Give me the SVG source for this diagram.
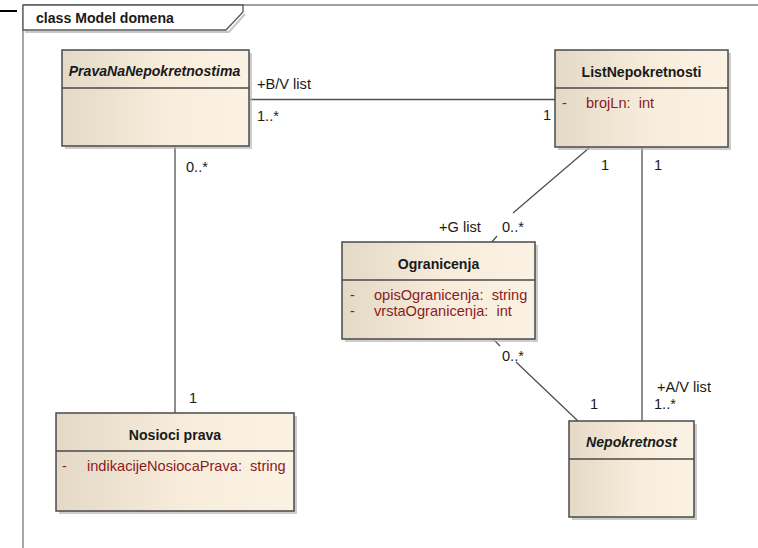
<svg xmlns="http://www.w3.org/2000/svg" width="758" height="548" viewBox="0 0 758 548">
<defs>
<linearGradient id="g" x1="0" y1="0" x2="1" y2="0">
<stop offset="0" stop-color="#e3d9c6"/>
<stop offset="0.55" stop-color="#f8eddc"/>
<stop offset="1" stop-color="#fbf2e4"/>
</linearGradient>
<style>
text{font-family:"Liberation Sans",Arial,sans-serif;font-size:14.6px;fill:#1a1a1a;white-space:pre}
.t{font-weight:bold;font-size:14.1px;text-anchor:middle}
.i{font-style:italic}
.a{fill:#8b1a24}
.box{fill:url(#g);stroke:#4a4a4a;stroke-width:1.5}
.sh{fill:#b8b8b8;opacity:0.7}
.div{stroke:#4a4a4a;stroke-width:1.5}
.c{stroke:#505050;stroke-width:1.3;fill:none}
</style>
</defs>
<rect width="758" height="548" fill="#fff"/>
<g id="frame">
<line x1="0" y1="11" x2="17" y2="11" stroke="#000" stroke-width="2"/>
<line x1="23" y1="5" x2="758" y2="5" stroke="#a0a0a0" stroke-width="2"/>
<line x1="23" y1="5" x2="23" y2="548" stroke="#8a8a8a" stroke-width="1.5"/>
<path d="M25,32 L229,32 L245,14" fill="none" stroke="#c8c8c8" stroke-width="2"/>
<path d="M23,5 L243,5 L243,12 L226,30 L23,30 Z" fill="#fff" stroke="#555" stroke-width="1.3"/>
<text x="36" y="23" style="font-weight:bold;font-size:14.1px">class Model domena</text>
</g>
<g id="connectors">
<line class="c" x1="249" y1="99.5" x2="555" y2="99.5"/>
<line class="c" x1="175" y1="146" x2="175" y2="413"/>
<line class="c" x1="642" y1="147" x2="642" y2="421"/>
<path class="c" d="M589,148 L513,213 M497,236 L492,242"/>
<path class="c" d="M493,339 L500,346 M516,362 L578,421"/>
</g>
<g id="labels">
<text x="257" y="89">+B/V list</text>
<text x="257" y="121">1..*</text>
<text x="543" y="120">1</text>
<text x="186" y="172">0..*</text>
<text x="189" y="403">1</text>
<text x="601" y="170">1</text>
<text x="654" y="170">1</text>
<text x="439" y="232">+G list</text>
<text x="502" y="232">0..*</text>
<text x="502" y="361">0..*</text>
<text x="590" y="409">1</text>
<text x="657" y="392">+A/V list</text>
<text x="654" y="409">1..*</text>
</g>
<g id="PravaNaNepokretnostima">
<rect class="sh" x="65" y="53" width="187" height="96"/>
<rect class="box" x="62" y="50" width="187" height="96"/>
<line class="div" x1="62" y1="88" x2="249" y2="88"/>
<text class="t i" x="154.5" y="76">PravaNaNepokretnostima</text>
</g>
<g id="ListNepokretnosti">
<rect class="sh" x="558" y="53" width="173" height="97"/>
<rect class="box" x="555" y="50" width="173" height="97"/>
<line class="div" x1="555" y1="88" x2="728" y2="88"/>
<text class="t" x="641.5" y="77">ListNepokretnosti</text>
<text class="a" x="562" y="108">-</text>
<text class="a" x="586" y="108">brojLn:  int</text>
</g>
<g id="Ogranicenja">
<rect class="sh" x="345" y="245" width="193" height="97"/>
<rect class="box" x="342" y="242" width="193" height="97"/>
<line class="div" x1="342" y1="280" x2="535" y2="280"/>
<text class="t" x="438.5" y="269">Ogranicenja</text>
<text class="a" x="350" y="300">-</text>
<text class="a" x="374" y="300">opisOgranicenja:  string</text>
<text class="a" x="350" y="316">-</text>
<text class="a" x="374" y="316">vrstaOgranicenja:  int</text>
</g>
<g id="NosiociPrava">
<rect class="sh" x="59" y="416" width="238" height="98"/>
<rect class="box" x="56" y="413" width="238" height="98"/>
<line class="div" x1="56" y1="451" x2="294" y2="451"/>
<text class="t" x="175" y="440">Nosioci prava</text>
<text class="a" x="62" y="471">-</text>
<text class="a" x="87" y="471">indikacijeNosiocaPrava:  string</text>
</g>
<g id="Nepokretnost">
<rect class="sh" x="572" y="424" width="125" height="96"/>
<rect class="box" x="569" y="421" width="125" height="96"/>
<line class="div" x1="569" y1="459" x2="694" y2="459"/>
<text class="t i" x="631.5" y="447">Nepokretnost</text>
</g>
</svg>
